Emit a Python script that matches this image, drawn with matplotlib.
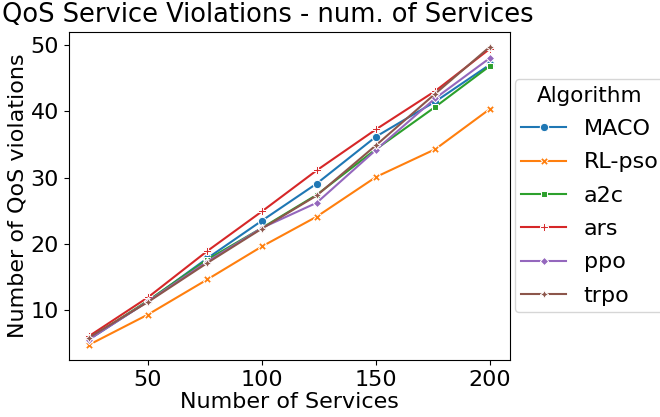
import matplotlib
matplotlib.use("Agg")
import matplotlib.pyplot as plt
import seaborn as sns
import pandas as pd

services = [24, 50, 76, 100, 124, 150, 176, 200]
algorithms = ["MACO", "RL-pso", "a2c", "ars", "ppo", "trpo"]
maco = [5.5, 11.3, 17.8, 23.5, 29.1, 36.2, 41.5, 47.1]
rl_pso = [4.7, 9.3, 14.6, 19.6, 24.1, 30.1, 34.3, 40.4]
a2c = [5.6, 11.4, 17.6, 22.4, 27.4, 34.3, 40.7, 46.9]
ars = [6.0, 11.9, 18.9, 24.9, 31.1, 37.3, 43.1, 49.5]
ppo = [5.5, 11.3, 17.3, 22.4, 26.2, 34.2, 42.0, 48.1]
trpo = [5.8, 11.2, 17.1, 22.3, 27.3, 34.9, 42.7, 49.8]

series = [maco, rl_pso, a2c, ars, ppo, trpo]
rows = []
for name, vals in zip(algorithms, series):
    for x, y in zip(services, vals):
        rows.append({"Number of Services": x, "Number of QoS violations": y, "Algorithm": name})
df = pd.DataFrame(rows)

fig = plt.figure(figsize=(6.6, 4.17), dpi=100)
ax = fig.add_axes([0.104, 0.137, 0.669, 0.787])
sns.lineplot(data=df, x="Number of Services", y="Number of QoS violations",
             hue="Algorithm", style="Algorithm", markers=True, dashes=False,
             ax=ax, markersize=6)
ax.set_title("QoS Service Violations - num. of Services", fontsize=18.5, x=0.452, pad=7)
ax.set_xlabel("Number of Services", fontsize=16, labelpad=2)
ax.set_ylabel("Number of QoS violations", fontsize=16, labelpad=2)
ax.tick_params(labelsize=16)
ax.set_xticks([50, 100, 150, 200])
ax.set_yticks([10, 20, 30, 40, 50])
leg = ax.legend(title="Algorithm", loc="center left", bbox_to_anchor=(1.0, 0.5),
                fontsize=16, title_fontsize=15.5, borderaxespad=0.2,
                labelspacing=0.6, borderpad=0.3)
fig.savefig("out.png", dpi=100)
